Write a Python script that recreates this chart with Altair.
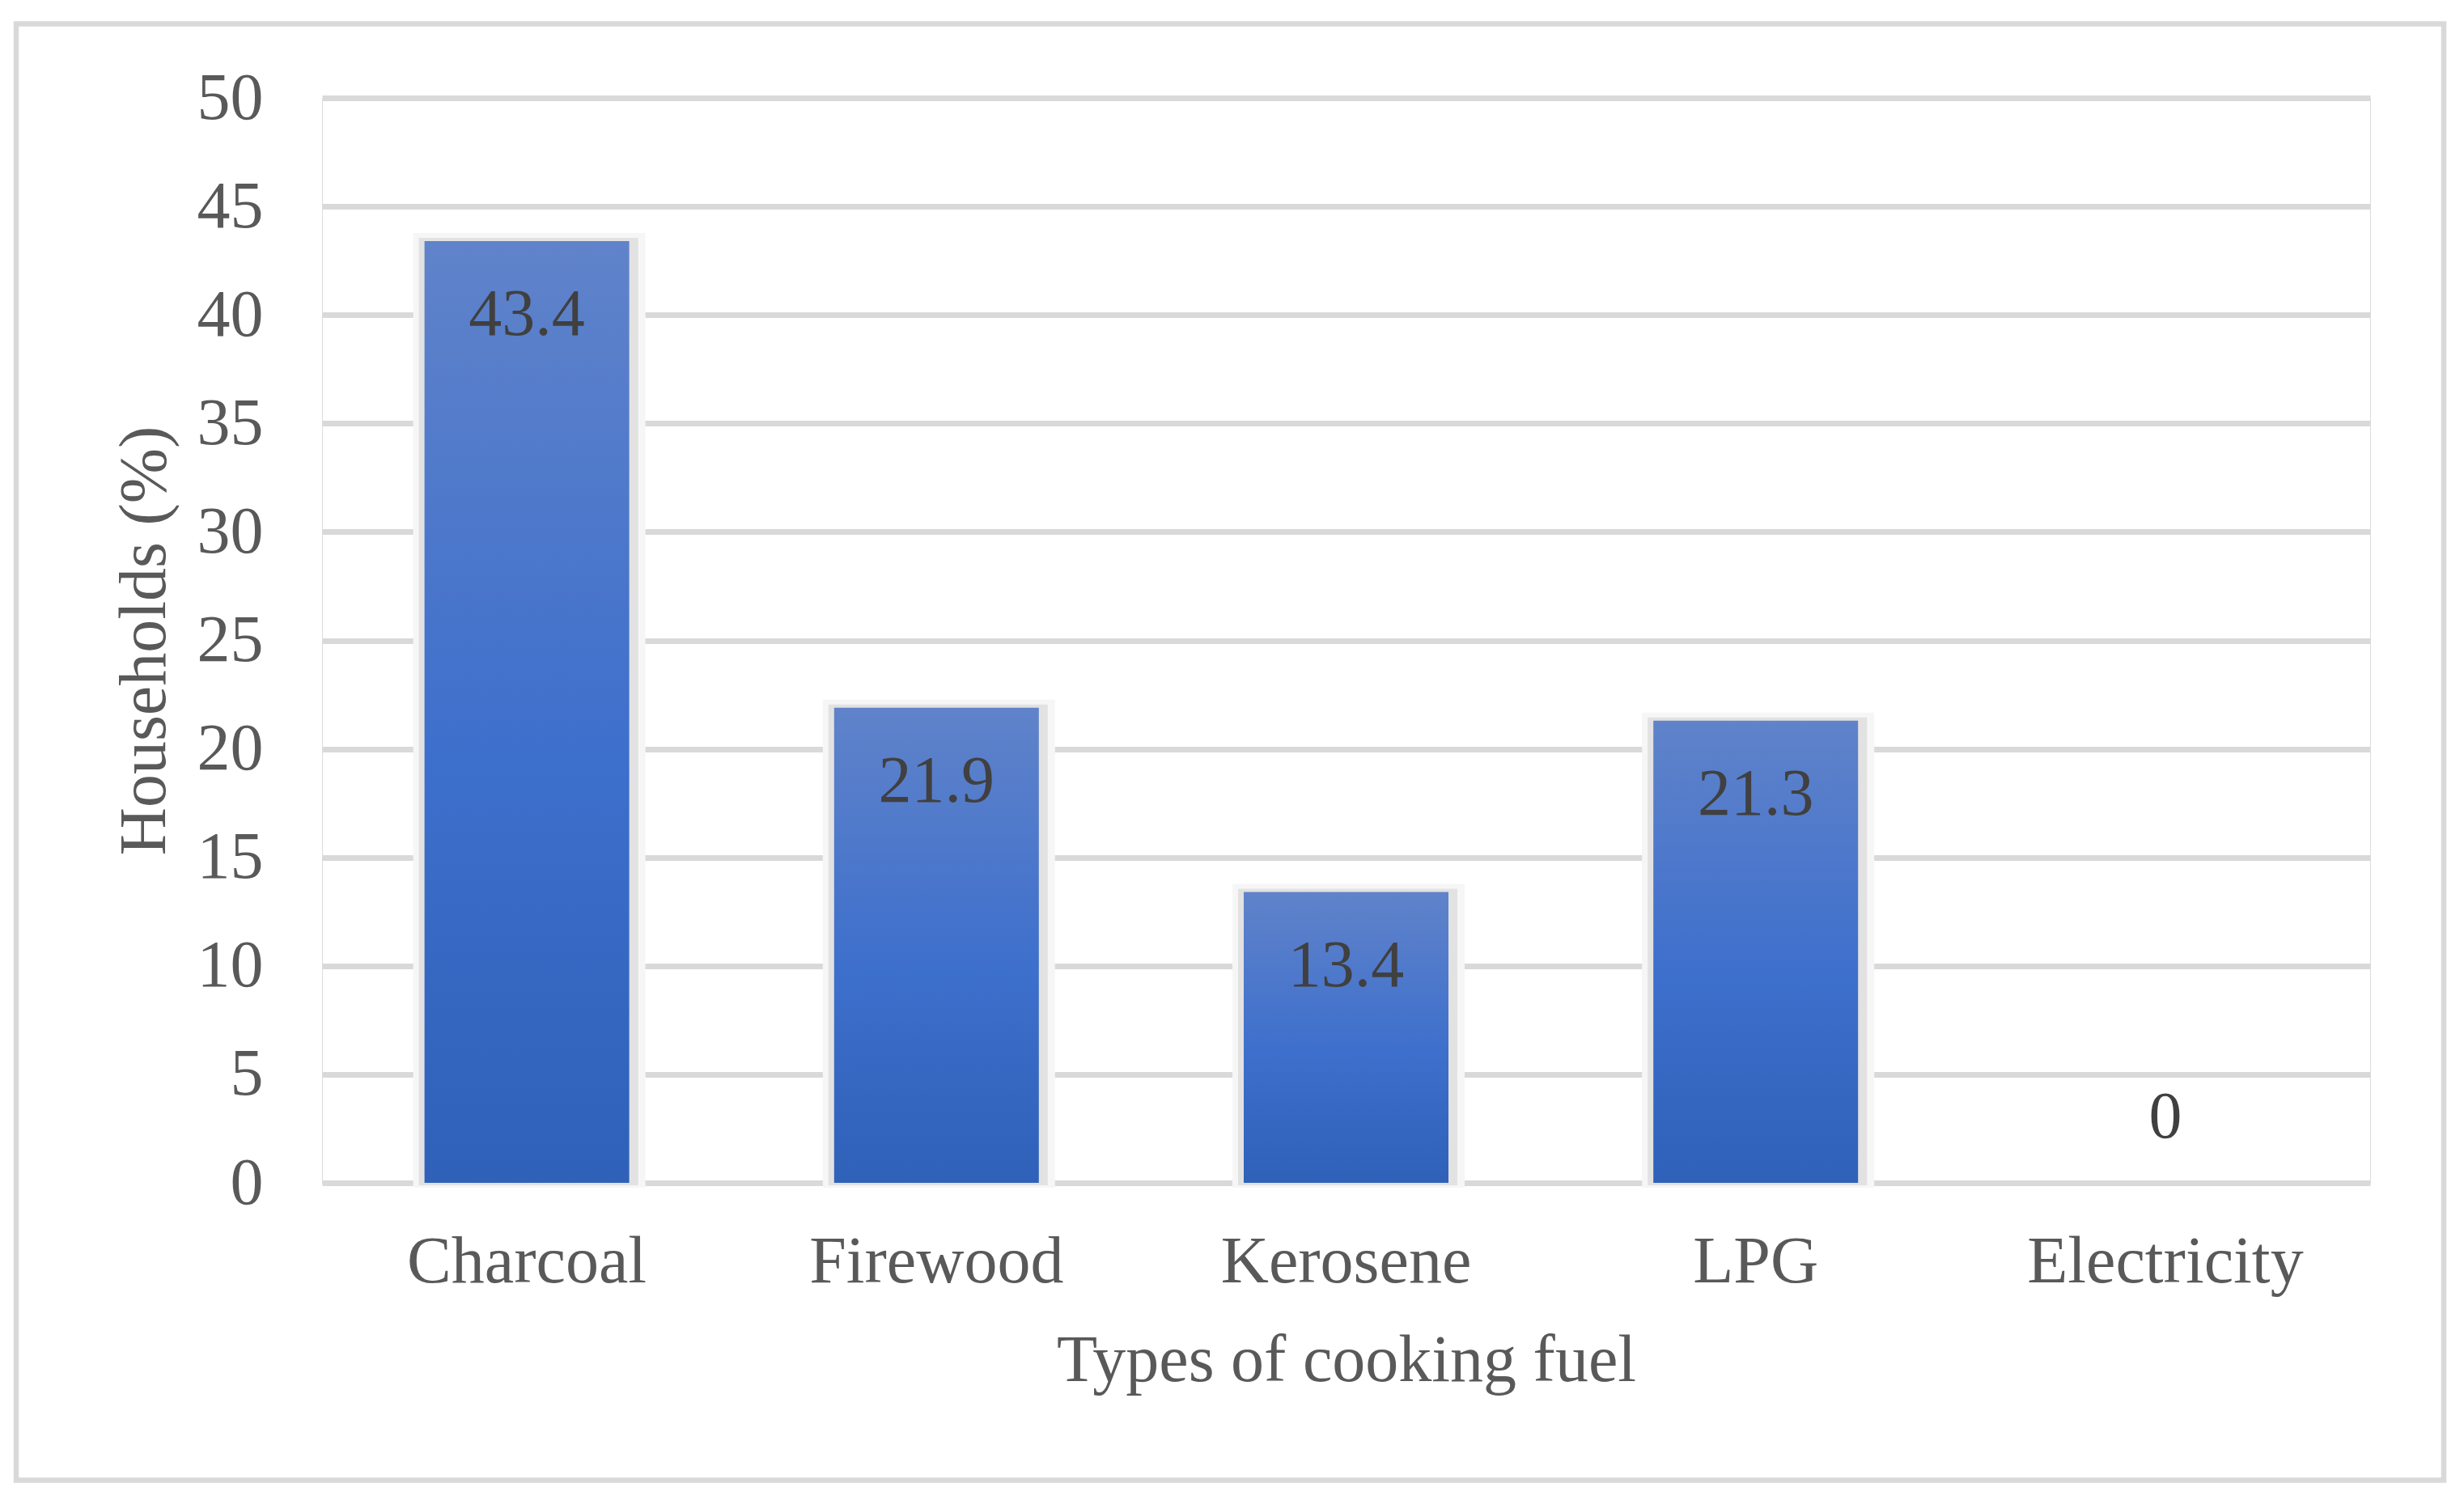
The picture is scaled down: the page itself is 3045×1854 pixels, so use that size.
import altair as alt
import pandas as pd

categories = ["Charcoal", "Firewood", "Kerosene", "LPG", "Electricity"]
values = [43.4, 21.9, 13.4, 21.3, 0]
y_ticks = [0, 5, 10, 15, 20, 25, 30, 35, 40, 45, 50]

df = pd.DataFrame({"fuel": categories, "pct": values})

W, H = 2531, 1341
PAD_L, PAD_T = 390, 113
FONT = "Liberation Serif"

x_enc = alt.X("fuel:N", sort=categories,
              scale=alt.Scale(paddingInner=0.5, paddingOuter=0.25),
              axis=alt.Axis(title="Types of cooking fuel", labelAngle=0,
                            domain=False, ticks=False, tickSize=0, labelLimit=0,
                            labelPadding=57, labelFontSize=82, labelFont=FONT,
                            labelColor="#595959", labelBaseline="top",
                            titleFontSize=82, titleFont=FONT, titleColor="#595959",
                            titleFontWeight="normal", titleBaseline="alphabetic",
                            titleY=244))
y_scale = alt.Scale(domain=[0, 50], nice=False)
y_enc = alt.Y("pct:Q", scale=y_scale,
              axis=alt.Axis(title="Households (%)", values=y_ticks,
                            domain=False, ticks=False, tickSize=0,
                            labelPadding=73, labelFontSize=82, labelFont=FONT,
                            labelColor="#595959", labelBaseline="middle",
                            grid=True, gridColor="#d9d9d9", gridWidth=7,
                            titleFontSize=82, titleFont=FONT, titleColor="#595959",
                            titleFontWeight="normal", titleBaseline="alphabetic",
                            titleAngle=270, titleX=-195, titleY=H / 2))

base = alt.Chart(df)

border = base.mark_rect(fill=None, stroke="#d9d9d9", strokeWidth=6.5, clip=False).encode(
    x=alt.value(20 - 398), x2=alt.value(3020 - 398),
    y=alt.value(29.5 - 121), y2=alt.value(1829.5 - 121),
).transform_filter("datum.fuel == 'Charcoal'")

pos = base.transform_filter("datum.pct > 0")
shadow1 = pos.mark_bar(size=253 + 34, color="#f6f6f6", xOffset=3, yOffset=-10, y2Offset=6).encode(
    x=x_enc, y=y_enc, y2=alt.datum(0))
shadow2 = pos.mark_bar(size=253 + 18, color="#e2e2e2", xOffset=2, yOffset=-4, y2Offset=3).encode(
    x=x_enc, y=y_enc, y2=alt.datum(0))

grad = alt.Gradient(gradient="linear", x1=0, y1=0, x2=0, y2=1,
                    stops=[alt.GradientStop(color="#6083ca", offset=0),
                           alt.GradientStop(color="#3d6fcc", offset=0.55),
                           alt.GradientStop(color="#2f61b9", offset=1)])
bars = base.mark_bar(size=253, color=grad).encode(x=x_enc, y=y_enc)

labels = pos.mark_text(font=FONT, fontSize=82, color="#404040", baseline="alphabetic",
                       dy=116).encode(x=x_enc, y=y_enc, text=alt.Text("pct:Q", format=".1f"))
zero_labels = base.transform_filter("datum.pct == 0").mark_text(
    font=FONT, fontSize=82, color="#404040", baseline="alphabetic", dy=-56
).encode(x=x_enc, y=y_enc, text=alt.Text("pct:Q", format="d"))

chart = alt.layer(border, shadow1, shadow2, bars, labels, zero_labels).properties(
    width=W, height=H,
    autosize=alt.AutoSizeParams(type="none"),
    padding={"left": PAD_L, "top": PAD_T, "right": 100, "bottom": 375},
).configure_view(stroke=None).configure(background="white")

chart.save("out.html", embed_options={"renderer": "svg", "actions": False})
